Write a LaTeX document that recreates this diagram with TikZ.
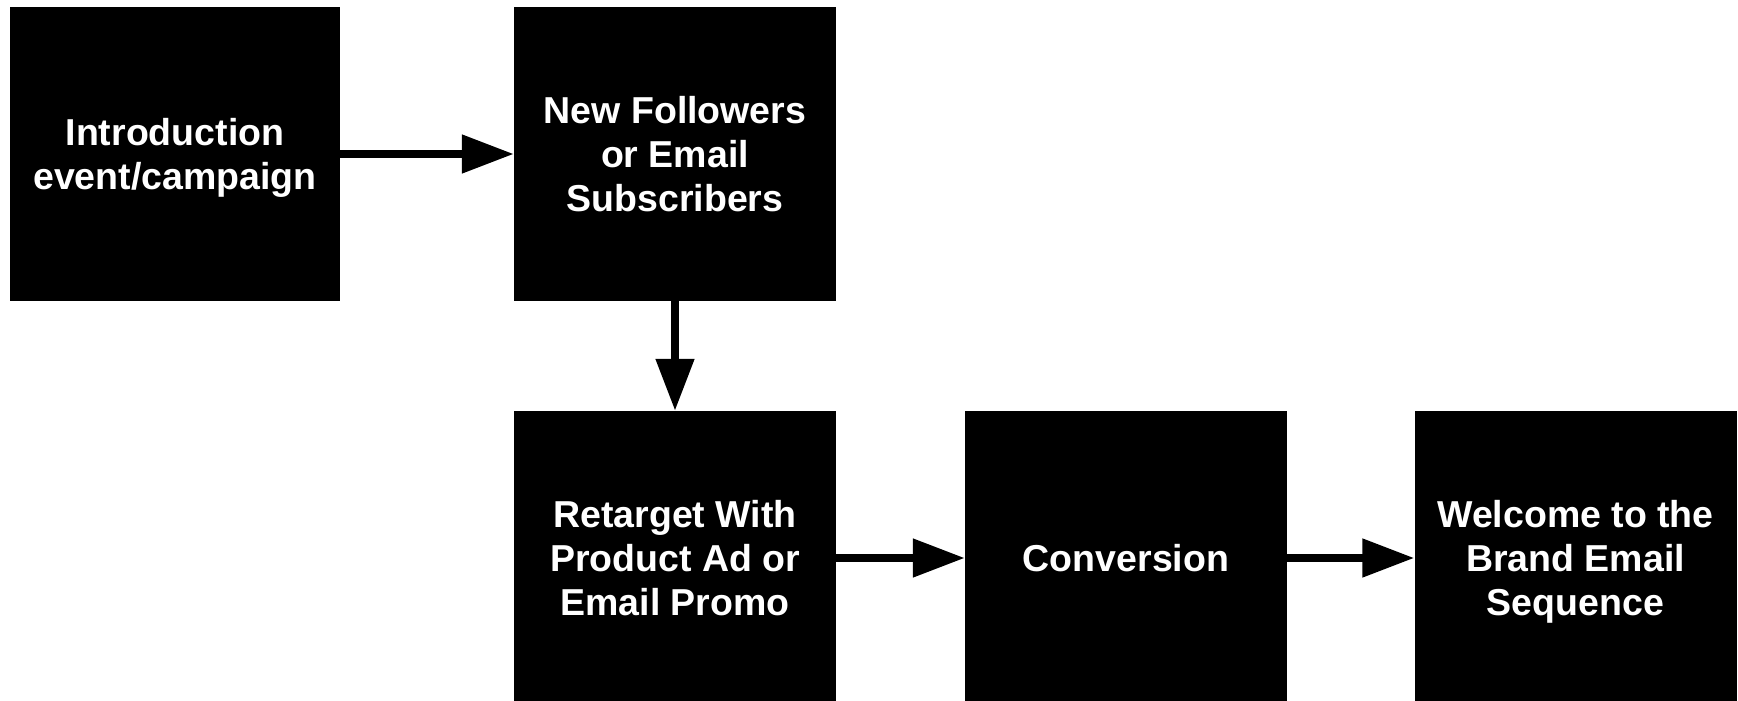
\documentclass[tikz,border=0pt]{standalone}
\usepackage{fontspec}
\setmainfont{Liberation Sans}
\usetikzlibrary{arrows.meta,positioning}

\begin{document}
\begin{tikzpicture}[x=1pt,y=-1pt,
	stage/.style={fill=black,text=white,font=\bfseries\fontsize{37.5}{44}\selectfont,align=center,text depth=0pt,inner sep=0pt,minimum width=322pt,minimum height=294pt},
	flow/.style={line width=8pt,-{Triangle[length=52pt,width=37pt]}}]
			\clip (0,0) rectangle (1738,701);
			\node[stage,minimum width=330pt] (intro) at (175,154) {Introduction\\event/campaign};
			\node[stage] (followers) at (675,154) {New Followers\\or Email\\Subscribers};
			\node[stage] (retarget) at (675,558) {Retarget With\\Product Ad or\\Email Promo};
			\node[stage] (conversion) at (1126,558) {Conversion};
			\node[stage] (welcome) at (1575.5,558) {Welcome to the\\Brand Email\\Sequence};
			\draw[flow] (intro) -- (followers);
			\draw[flow] (followers) -- (retarget);
			\draw[flow] (retarget) -- (conversion);
			\draw[flow] (conversion) -- (welcome);
\end{tikzpicture}
\end{document}
